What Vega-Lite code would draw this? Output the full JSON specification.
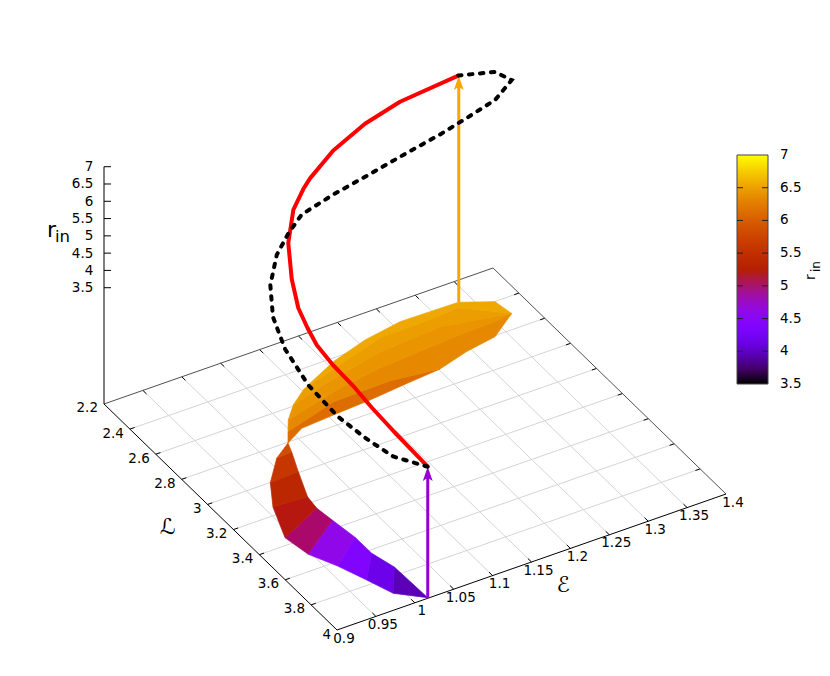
{
"$schema":"https://vega.github.io/schema/vega-lite/v6.json",
"width":830,"height":676,"padding":0,
"autosize":{"type":"fit","contains":"padding"},
"background":"white",
"config":{"view":{"stroke":null},"font":"DejaVu Sans"},
"datasets":{
"eticks":[{"E":0.9,"t":"0.9"},{"E":0.95,"t":"0.95"},{"E":1,"t":"1"},{"E":1.05,"t":"1.05"},{"E":1.1,"t":"1.1"},{"E":1.15,"t":"1.15"},{"E":1.2,"t":"1.2"},{"E":1.25,"t":"1.25"},{"E":1.3,"t":"1.3"},{"E":1.35,"t":"1.35"},{"E":1.4,"t":"1.4"}],
"lticks":[{"L":2.2,"t":"2.2"},{"L":2.4,"t":"2.4"},{"L":2.6,"t":"2.6"},{"L":2.8,"t":"2.8"},{"L":3,"t":"3"},{"L":3.2,"t":"3.2"},{"L":3.4,"t":"3.4"},{"L":3.6,"t":"3.6"},{"L":3.8,"t":"3.8"},{"L":4,"t":"4"}],
"zticks":[{"r":3.5,"t":"3.5"},{"r":4,"t":"4"},{"r":4.5,"t":"4.5"},{"r":5,"t":"5"},{"r":5.5,"t":"5.5"},{"r":6,"t":"6"},{"r":6.5,"t":"6.5"},{"r":7,"t":"7"}],
"cbticks":[{"rin":4},{"rin":4.5},{"rin":5},{"rin":5.5},{"rin":6},{"rin":6.5}],
"edges":[{"edge":"back","k":1,"E":0.9,"L":2.2},{"edge":"back","k":2,"E":1.4,"L":2.2},{"edge":"back","k":3,"E":1.4,"L":4},{"edge":"front","k":1,"E":0.9,"L":2.2},{"edge":"front","k":2,"E":0.9,"L":4},{"edge":"front","k":3,"E":1.4,"L":4}],
"surface":[
{"p":"q1","k":1,"E":1.0172,"L":3.9966,"rin":3.95},{"p":"q1","k":2,"E":0.9889,"L":3.9004,"rin":3.95},{"p":"q1","k":3,"E":1.0155,"L":3.7485,"rin":3.95},
{"p":"q2","k":1,"E":0.9889,"L":3.9004,"rin":4.15},{"p":"q2","k":2,"E":0.9768,"L":3.7681,"rin":4.15},{"p":"q2","k":3,"E":1.0075,"L":3.622,"rin":4.15},{"p":"q2","k":4,"E":1.0155,"L":3.7485,"rin":4.15},
{"p":"q3","k":1,"E":0.9768,"L":3.7681,"rin":4.375},{"p":"q3","k":2,"E":0.963,"L":3.6268,"rin":4.375},{"p":"q3","k":3,"E":1.0073,"L":3.4941,"rin":4.375},{"p":"q3","k":4,"E":1.0075,"L":3.622,"rin":4.375},
{"p":"q4","k":1,"E":0.963,"L":3.6268,"rin":4.6},{"p":"q4","k":2,"E":0.9466,"L":3.4981,"rin":4.6},{"p":"q4","k":3,"E":1.0026,"L":3.3486,"rin":4.6},{"p":"q4","k":4,"E":1.0073,"L":3.4941,"rin":4.6},
{"p":"q5","k":1,"E":0.9466,"L":3.4981,"rin":5.0},{"p":"q5","k":2,"E":0.9408,"L":3.3532,"rin":5.0},{"p":"q5","k":3,"E":0.9994,"L":3.246,"rin":5.0},{"p":"q5","k":4,"E":1.0026,"L":3.3486,"rin":5.0},
{"p":"q6","k":1,"E":0.9408,"L":3.3532,"rin":5.23},{"p":"q6","k":2,"E":0.9593,"L":3.1489,"rin":5.23},{"p":"q6","k":3,"E":1.002,"L":3.1592,"rin":5.23},{"p":"q6","k":4,"E":0.9994,"L":3.246,"rin":5.23},
{"p":"q7","k":1,"E":0.9593,"L":3.1489,"rin":5.36},{"p":"q7","k":2,"E":0.9805,"L":3.0011,"rin":5.36},{"p":"q7","k":3,"E":1.0176,"L":2.9941,"rin":5.36},{"p":"q7","k":4,"E":1.002,"L":3.1592,"rin":5.36},
{"p":"q8","k":1,"E":0.9805,"L":3.0011,"rin":5.6},{"p":"q8","k":2,"E":1.0103,"L":2.8714,"rin":5.6},{"p":"q8","k":3,"E":1.0306,"L":2.8652,"rin":5.6},{"p":"q8","k":4,"E":1.0176,"L":2.9941,"rin":5.6},
{"p":"q9","k":1,"E":1.0103,"L":2.8714,"rin":5.85},{"p":"q9","k":2,"E":1.0358,"L":2.805,"rin":5.85},{"p":"q9","k":3,"E":1.0306,"L":2.8652,"rin":5.85},
{"p":"s0","k":1,"E":1.0358,"L":2.805,"rin":6.13},{"p":"s0","k":2,"E":1.0631,"L":2.7469,"rin":6.13},{"p":"s0","k":3,"E":1.1059,"L":2.7338,"rin":6.13},{"p":"s0","k":4,"E":1.1552,"L":2.7211,"rin":6.13},{"p":"s0","k":5,"E":1.206,"L":2.6996,"rin":6.13},{"p":"s0","k":6,"E":1.2515,"L":2.6829,"rin":6.13},{"p":"s0","k":7,"E":1.1926,"L":2.6508,"rin":6.13},{"p":"s0","k":8,"E":1.1186,"L":2.6577,"rin":6.13},{"p":"s0","k":9,"E":1.0469,"L":2.7388,"rin":6.13},
{"p":"s1","k":1,"E":1.0469,"L":2.7388,"rin":6.34},{"p":"s1","k":2,"E":1.1186,"L":2.6577,"rin":6.34},{"p":"s1","k":3,"E":1.1926,"L":2.6508,"rin":6.34},{"p":"s1","k":4,"E":1.2515,"L":2.6829,"rin":6.34},{"p":"s1","k":5,"E":1.2938,"L":2.6351,"rin":6.34},{"p":"s1","k":6,"E":1.335,"L":2.6063,"rin":6.34},{"p":"s1","k":7,"E":1.3733,"L":2.5047,"rin":6.34},{"p":"s1","k":8,"E":1.3496,"L":2.5185,"rin":6.34},{"p":"s1","k":9,"E":1.3083,"L":2.5215,"rin":6.34},{"p":"s1","k":10,"E":1.1958,"L":2.5542,"rin":6.34},{"p":"s1","k":11,"E":1.1335,"L":2.5944,"rin":6.34},{"p":"s1","k":12,"E":1.0585,"L":2.6709,"rin":6.34},
{"p":"s2","k":1,"E":1.0585,"L":2.6709,"rin":6.42},{"p":"s2","k":2,"E":1.1335,"L":2.5944,"rin":6.42},{"p":"s2","k":3,"E":1.1958,"L":2.5542,"rin":6.42},{"p":"s2","k":4,"E":1.3083,"L":2.5215,"rin":6.42},{"p":"s2","k":5,"E":1.3496,"L":2.5185,"rin":6.42},{"p":"s2","k":6,"E":1.3733,"L":2.5047,"rin":6.42},{"p":"s2","k":7,"E":1.2925,"L":2.437,"rin":6.42},{"p":"s2","k":8,"E":1.2114,"L":2.4605,"rin":6.42},{"p":"s2","k":9,"E":1.1257,"L":2.5377,"rin":6.42},{"p":"s2","k":10,"E":1.0779,"L":2.5933,"rin":6.42},
{"p":"s3","k":1,"E":1.0779,"L":2.5933,"rin":6.48},{"p":"s3","k":2,"E":1.1257,"L":2.5377,"rin":6.48},{"p":"s3","k":3,"E":1.2114,"L":2.4605,"rin":6.48},{"p":"s3","k":4,"E":1.2925,"L":2.437,"rin":6.48},{"p":"s3","k":5,"E":1.3733,"L":2.5047,"rin":6.48},{"p":"s3","k":6,"E":1.3282,"L":2.3632,"rin":6.48},{"p":"s3","k":7,"E":1.2815,"L":2.3735,"rin":6.48},{"p":"s3","k":8,"E":1.225,"L":2.3786,"rin":6.48},{"p":"s3","k":9,"E":1.1533,"L":2.4621,"rin":6.48},{"p":"s3","k":10,"E":1.1019,"L":2.526,"rin":6.48},
{"p":"s4","k":1,"E":1.1019,"L":2.526,"rin":6.54},{"p":"s4","k":2,"E":1.1533,"L":2.4621,"rin":6.54},{"p":"s4","k":3,"E":1.225,"L":2.3786,"rin":6.54},{"p":"s4","k":4,"E":1.2815,"L":2.3735,"rin":6.54},{"p":"s4","k":5,"E":1.3282,"L":2.3632,"rin":6.54},{"p":"s4","k":6,"E":1.3733,"L":2.5047,"rin":6.54},{"p":"s4","k":7,"E":1.3691,"L":2.4014,"rin":6.54},{"p":"s4","k":8,"E":1.3338,"L":2.3298,"rin":6.54},{"p":"s4","k":9,"E":1.2598,"L":2.3241,"rin":6.54},{"p":"s4","k":10,"E":1.2089,"L":2.3596,"rin":6.54},{"p":"s4","k":11,"E":1.1578,"L":2.4217,"rin":6.54},{"p":"s4","k":12,"E":1.1148,"L":2.5005,"rin":6.54}
],
"red":[
{"k":1,"E":1.0172,"L":3.9966,"r":3.925},{"k":2,"E":1.0155,"L":3.7485,"r":4.041},{"k":3,"E":1.0075,"L":3.622,"r":4.354},{"k":4,"E":1.0073,"L":3.4941,"r":4.455},{"k":5,"E":1.0026,"L":3.3486,"r":4.643},{"k":6,"E":0.9994,"L":3.246,"r":4.86},{"k":7,"E":1.002,"L":3.1592,"r":5.016},{"k":8,"E":1.0176,"L":2.9941,"r":4.871},{"k":9,"E":1.0306,"L":2.8652,"r":5.14},{"k":10,"E":1.0585,"L":2.6709,"r":5.256},{"k":11,"E":1.0779,"L":2.5933,"r":5.777},{"k":12,"E":1.1019,"L":2.526,"r":5.95},{"k":13,"E":1.1148,"L":2.5005,"r":6.063},{"k":14,"E":1.1578,"L":2.4217,"r":6.245},{"k":15,"E":1.2089,"L":2.3596,"r":6.393},{"k":16,"E":1.2598,"L":2.3241,"r":6.5},{"k":17,"E":1.3338,"L":2.3298,"r":6.691}
],
"black":[
{"k":1,"E":1.0172,"L":3.9966,"r":3.925},{"k":2,"E":0.9889,"L":3.9004,"r":4.093},{"k":3,"E":0.9768,"L":3.7681,"r":4.215},{"k":4,"E":0.963,"L":3.6268,"r":4.463},{"k":5,"E":0.9466,"L":3.4981,"r":5.033},{"k":6,"E":0.9408,"L":3.3532,"r":5.595},{"k":7,"E":0.9593,"L":3.1489,"r":5.632},{"k":8,"E":0.9805,"L":3.0011,"r":5.855},{"k":9,"E":1.0103,"L":2.8714,"r":6.017},{"k":10,"E":1.0358,"L":2.805,"r":6.182},{"k":11,"E":1.0631,"L":2.7469,"r":6.321},{"k":12,"E":1.1059,"L":2.7338,"r":6.514},{"k":13,"E":1.1552,"L":2.7211,"r":6.673},{"k":14,"E":1.206,"L":2.6996,"r":6.804},{"k":15,"E":1.2515,"L":2.6829,"r":6.919},{"k":16,"E":1.2938,"L":2.6351,"r":6.89},{"k":17,"E":1.335,"L":2.6063,"r":6.983},{"k":18,"E":1.3733,"L":2.5047,"r":6.89},{"k":19,"E":1.3691,"L":2.4014,"r":6.781},{"k":20,"E":1.3338,"L":2.3298,"r":6.697}
],
"arrows":[{"a":"start","E":1.0172,"L":3.9966,"r":3.925},{"a":"end","E":1.3342,"L":2.331,"r":6.691}]
},
"encoding":{
"x":{"field":"sx","type":"quantitative","scale":{"domain":[0,830],"nice":false,"zero":false},"axis":null},
"y":{"field":"sy","type":"quantitative","scale":{"domain":[676,0],"nice":false,"zero":false},"axis":null}
},
"layer":[
{"data":{"name":"eticks"},"transform":[{"filter":"datum.E>0.92&&datum.E<1.38"},{"calculate":"337+778*(datum.E-0.9)+129.44*(2.2-4)","as":"sx"},{"calculate":"630-272*(datum.E-0.9)+125.56*(2.2-4)","as":"sy"},{"calculate":"337+778*(datum.E-0.9)","as":"sx2"},{"calculate":"630-272*(datum.E-0.9)","as":"sy2"}],
"mark":{"type":"rule","stroke":"#d4d4d4","strokeWidth":1},"encoding":{"x2":{"field":"sx2"},"y2":{"field":"sy2"}}},
{"data":{"name":"lticks"},"transform":[{"filter":"datum.L>2.3&&datum.L<3.9"},{"calculate":"337+129.44*(datum.L-4)","as":"sx"},{"calculate":"630+125.56*(datum.L-4)","as":"sy"},{"calculate":"337+389+129.44*(datum.L-4)","as":"sx2"},{"calculate":"630-136+125.56*(datum.L-4)","as":"sy2"}],
"mark":{"type":"rule","stroke":"#d4d4d4","strokeWidth":1},"encoding":{"x2":{"field":"sx2"},"y2":{"field":"sy2"}}},
{"data":{"name":"eticks"},"transform":[{"filter":"datum.E>0.92&&datum.E<1.38"},{"calculate":"337+778*(datum.E-0.9)","as":"sx"},{"calculate":"630-272*(datum.E-0.9)","as":"sy"},{"calculate":"datum.sx-3.6","as":"sx2"},{"calculate":"datum.sy-3.5","as":"sy2"}],
"mark":{"type":"rule","stroke":"#000","strokeWidth":1},"encoding":{"x2":{"field":"sx2"},"y2":{"field":"sy2"}}},
{"data":{"name":"eticks"},"transform":[{"filter":"datum.E>0.92&&datum.E<1.38"},{"calculate":"337+778*(datum.E-0.9)-233","as":"sx"},{"calculate":"630-272*(datum.E-0.9)-226","as":"sy"},{"calculate":"datum.sx+3.6","as":"sx2"},{"calculate":"datum.sy+3.5","as":"sy2"}],
"mark":{"type":"rule","stroke":"#000","strokeWidth":1},"encoding":{"x2":{"field":"sx2"},"y2":{"field":"sy2"}}},
{"data":{"name":"lticks"},"transform":[{"filter":"datum.L>2.3&&datum.L<3.9"},{"calculate":"337+129.44*(datum.L-4)","as":"sx"},{"calculate":"630+125.56*(datum.L-4)","as":"sy"},{"calculate":"datum.sx+4.7","as":"sx2"},{"calculate":"datum.sy-1.6","as":"sy2"}],
"mark":{"type":"rule","stroke":"#000","strokeWidth":1},"encoding":{"x2":{"field":"sx2"},"y2":{"field":"sy2"}}},
{"data":{"name":"lticks"},"transform":[{"filter":"datum.L>2.3&&datum.L<3.9"},{"calculate":"726+129.44*(datum.L-4)","as":"sx"},{"calculate":"494+125.56*(datum.L-4)","as":"sy"},{"calculate":"datum.sx-4.7","as":"sx2"},{"calculate":"datum.sy+1.6","as":"sy2"}],
"mark":{"type":"rule","stroke":"#000","strokeWidth":1},"encoding":{"x2":{"field":"sx2"},"y2":{"field":"sy2"}}},
{"data":{"name":"edges"},"transform":[{"filter":"datum.edge=='back'"},{"calculate":"337+778*(datum.E-0.9)+129.44*(datum.L-4)","as":"sx"},{"calculate":"630-272*(datum.E-0.9)+125.56*(datum.L-4)","as":"sy"}],
"mark":{"type":"line","stroke":"#505050","strokeWidth":1},"encoding":{"order":{"field":"k","type":"ordinal"}}},
{"data":{"name":"edges"},"transform":[{"filter":"datum.edge=='front'"},{"calculate":"337+778*(datum.E-0.9)+129.44*(datum.L-4)","as":"sx"},{"calculate":"630-272*(datum.E-0.9)+125.56*(datum.L-4)","as":"sy"}],
"mark":{"type":"line","stroke":"#000","strokeWidth":1},"encoding":{"order":{"field":"k","type":"ordinal"}}},
{"data":{"name":"zticks"},"transform":[{"calculate":"104","as":"sx"},{"calculate":"404-34.57*(datum.r-0.136)","as":"sy"},{"calculate":"111","as":"sx2"}],
"mark":{"type":"rule","stroke":"#000","strokeWidth":1},"encoding":{"x2":{"field":"sx2"}}},
{"data":{"values":[{"r":7}]},"transform":[{"calculate":"104","as":"sx"},{"calculate":"404-34.57*(datum.r-0.136)","as":"sy"},{"calculate":"404","as":"sy2"}],
"mark":{"type":"rule","stroke":"#000","strokeWidth":1},"encoding":{"y2":{"field":"sy2"}}},
{"data":{"name":"surface"},"transform":[{"calculate":"337+778*(datum.E-0.9)+129.44*(datum.L-4)","as":"sx"},{"calculate":"630-272*(datum.E-0.9)+125.56*(datum.L-4)","as":"sy"}],
"mark":{"type":"line","interpolate":"linear-closed","strokeWidth":0.7},
"encoding":{"detail":{"field":"p","type":"nominal"},"order":{"field":"k","type":"quantitative"},
"stroke":{"field":"rin","type":"quantitative","legend":null,
"scale":{"domain":[3.50001,3.71875,3.9375,4.15625,4.375,4.59375,4.8125,5.03125,5.25,5.46875,5.6875,5.90625,6.125,6.34375,6.5625,6.78125,7],"range":["#000000","#400062","#5A00B4","#6E02EC","#8004FF","#8F08EC","#9C0DB4","#A91562","#B42000","#BF2D00","#CA3E00","#D35300","#DD6C00","#E68900","#EFAB00","#F7D200","#FFFF00"]}}}},
{"data":{"name":"surface"},"transform":[{"calculate":"337+778*(datum.E-0.9)+129.44*(datum.L-4)","as":"sx"},{"calculate":"630-272*(datum.E-0.9)+125.56*(datum.L-4)","as":"sy"}],
"mark":{"type":"line","interpolate":"linear-closed","strokeWidth":0},
"encoding":{"detail":{"field":"p","type":"nominal"},"order":{"field":"k","type":"quantitative"},
"fill":{"field":"rin","type":"quantitative",
"scale":{"domain":[3.5,3.71875,3.9375,4.15625,4.375,4.59375,4.8125,5.03125,5.25,5.46875,5.6875,5.90625,6.125,6.34375,6.5625,6.78125,7],"range":["#000000","#400062","#5A00B4","#6E02EC","#8004FF","#8F08EC","#9C0DB4","#A91562","#B42000","#BF2D00","#CA3E00","#D35300","#DD6C00","#E68900","#EFAB00","#F7D200","#FFFF00"]},
"legend":{"orient":"none","legendX":737,"legendY":155,"title":null,"direction":"vertical","gradientLength":229,"gradientThickness":31,"gradientOpacity":0,"values":[3.5,4,4.5,5,5.5,6,6.5,7],"format":".1~f","labelFontSize":13.5,"labelColor":"#000","labelOffset":12,"labelOverlap":false,"labelFont":"DejaVu Sans","padding":0,"encode":{"labels":{"update":{"baseline":{"value":"middle"}}}}}}}},
{"data":{"name":"arrows"},"transform":[{"calculate":"337+778*(datum.E-0.9)+129.44*(datum.L-4)","as":"sx"},{"calculate":"630-272*(datum.E-0.9)+125.56*(datum.L-4)","as":"sy"},{"calculate":"datum.sy-34.57*(datum.r-0.136)+6","as":"sy2"}],
"mark":{"type":"rule","strokeWidth":3},"encoding":{"y2":{"field":"sy2"},"color":{"field":"a","type":"nominal","scale":{"domain":["start","end"],"range":["#9400D3","#FFA500"]},"legend":null}}},
{"data":{"name":"arrows"},"transform":[{"calculate":"337+778*(datum.E-0.9)+129.44*(datum.L-4)","as":"sx"},{"calculate":"630-272*(datum.E-0.9)+125.56*(datum.L-4)-34.57*(datum.r-0.136)","as":"sy"}],
"mark":{"type":"point","filled":true,"opacity":1,"size":120,"shape":"M0,0L0.9,2.6L0,2L-0.9,2.6Z"},"encoding":{"color":{"field":"a","type":"nominal","scale":{"domain":["start","end"],"range":["#9400D3","#FFA500"]},"legend":null}}},
{"data":{"name":"red"},"transform":[{"calculate":"337+778*(datum.E-0.9)+129.44*(datum.L-4)","as":"sx"},{"calculate":"630-272*(datum.E-0.9)+125.56*(datum.L-4)-34.57*(datum.r-0.136)","as":"sy"}],
"mark":{"type":"line","stroke":"#FF0000","strokeWidth":4,"strokeJoin":"round"},"encoding":{"order":{"field":"k","type":"quantitative"}}},
{"data":{"name":"black"},"transform":[{"calculate":"337+778*(datum.E-0.9)+129.44*(datum.L-4)","as":"sx"},{"calculate":"630-272*(datum.E-0.9)+125.56*(datum.L-4)-34.57*(datum.r-0.136)","as":"sy"}],
"mark":{"type":"line","stroke":"#000","strokeWidth":4,"strokeDash":[3.5,7.5],"strokeCap":"round"},"encoding":{"order":{"field":"k","type":"quantitative"}}},
{"data":{"name":"eticks"},"transform":[{"calculate":"337+778*(datum.E-0.9)","as":"sx"},{"calculate":"630-272*(datum.E-0.9)","as":"sy"}],
"mark":{"type":"text","fontSize":13.5,"align":"center","baseline":"middle","dx":7,"dy":8.5,"color":"#000"},"encoding":{"text":{"field":"t","type":"nominal"}}},
{"data":{"name":"lticks"},"transform":[{"calculate":"337+129.44*(datum.L-4)","as":"sx"},{"calculate":"630+125.56*(datum.L-4)","as":"sy"}],
"mark":{"type":"text","fontSize":13.5,"align":"right","baseline":"middle","dx":-6,"dy":4.5,"color":"#000"},"encoding":{"text":{"field":"t","type":"nominal"}}},
{"data":{"name":"zticks"},"transform":[{"calculate":"104","as":"sx"},{"calculate":"404-34.57*(datum.r-0.136)","as":"sy"}],
"mark":{"type":"text","fontSize":13.5,"align":"right","baseline":"middle","dx":-10.7,"dy":0.5,"color":"#000"},"encoding":{"text":{"field":"t","type":"nominal"}}},
{"data":{"values":[{"t":"ℒ","E":0.8401,"L":3.0522},{"t":"ℰ","E":1.1576,"L":4.1998}]},"transform":[{"calculate":"337+778*(datum.E-0.9)+129.44*(datum.L-4)","as":"sx"},{"calculate":"630-272*(datum.E-0.9)+125.56*(datum.L-4)","as":"sy"}],
"mark":{"type":"text","fontSize":22,"align":"center","baseline":"middle","color":"#000"},"encoding":{"text":{"field":"t","type":"nominal"}}},
{"data":{"values":[{"t":"r","r":4.967}]},"transform":[{"calculate":"104","as":"sx"},{"calculate":"404-34.57*(datum.r-0.136)","as":"sy"}],
"mark":{"type":"text","fontSize":22,"align":"left","baseline":"alphabetic","dx":-57,"color":"#000"},"encoding":{"text":{"field":"t","type":"nominal"}}},
{"data":{"values":[{"t":"in","r":4.822}]},"transform":[{"calculate":"104","as":"sx"},{"calculate":"404-34.57*(datum.r-0.136)","as":"sy"}],
"mark":{"type":"text","fontSize":16.5,"align":"left","baseline":"alphabetic","dx":-49,"color":"#000"},"encoding":{"text":{"field":"t","type":"nominal"}}},
{"data":{"values":[{"t":"r","E":1.6925,"L":2.9294}]},"transform":[{"calculate":"337+778*(datum.E-0.9)+129.44*(datum.L-4)","as":"sx"},{"calculate":"630-272*(datum.E-0.9)+125.56*(datum.L-4)","as":"sy"}],
"mark":{"type":"text","fontSize":14,"angle":270,"align":"left","baseline":"alphabetic","color":"#000"},"encoding":{"text":{"field":"t","type":"nominal"}}},
{"data":{"values":[{"t":"in","E":1.705,"L":2.8928}]},"transform":[{"calculate":"337+778*(datum.E-0.9)+129.44*(datum.L-4)","as":"sx"},{"calculate":"630-272*(datum.E-0.9)+125.56*(datum.L-4)","as":"sy"}],
"mark":{"type":"text","fontSize":12,"angle":270,"align":"left","baseline":"alphabetic","color":"#000"},"encoding":{"text":{"field":"t","type":"nominal"}}},
{"data":{"values":[{"lo":3.5,"hi":7}]},"transform":[{"calculate":"737","as":"sx"},{"calculate":"768","as":"sx2"},{"calculate":"384-(datum.lo-3.5)*65.43","as":"sy"},{"calculate":"384-(datum.hi-3.5)*65.43","as":"sy2"}],
"mark":{"type":"rect","stroke":"#444","strokeWidth":1,"fill":{"gradient":"linear","x1":0,"y1":1,"x2":0,"y2":0,"stops":[{"offset":0,"color":"#000000"},{"offset":0.0625,"color":"#400062"},{"offset":0.125,"color":"#5A00B4"},{"offset":0.1875,"color":"#6E02EC"},{"offset":0.25,"color":"#8004FF"},{"offset":0.3125,"color":"#8F08EC"},{"offset":0.375,"color":"#9C0DB4"},{"offset":0.4375,"color":"#A91562"},{"offset":0.5,"color":"#B42000"},{"offset":0.5625,"color":"#BF2D00"},{"offset":0.625,"color":"#CA3E00"},{"offset":0.6875,"color":"#D35300"},{"offset":0.75,"color":"#DD6C00"},{"offset":0.8125,"color":"#E68900"},{"offset":0.875,"color":"#EFAB00"},{"offset":0.9375,"color":"#F7D200"},{"offset":1,"color":"#FFFF00"}]}},
"encoding":{"x2":{"field":"sx2"},"y2":{"field":"sy2"}}},
{"data":{"name":"cbticks"},"transform":[{"calculate":"737","as":"sx"},{"calculate":"743","as":"sx2"},{"calculate":"384-(datum.rin-3.5)*65.43","as":"sy"}],
"mark":{"type":"rule","stroke":"#222","strokeWidth":1},"encoding":{"x2":{"field":"sx2"}}},
{"data":{"name":"cbticks"},"transform":[{"calculate":"762","as":"sx"},{"calculate":"768","as":"sx2"},{"calculate":"384-(datum.rin-3.5)*65.43","as":"sy"}],
"mark":{"type":"rule","stroke":"#222","strokeWidth":1},"encoding":{"x2":{"field":"sx2"}}}
]
}
